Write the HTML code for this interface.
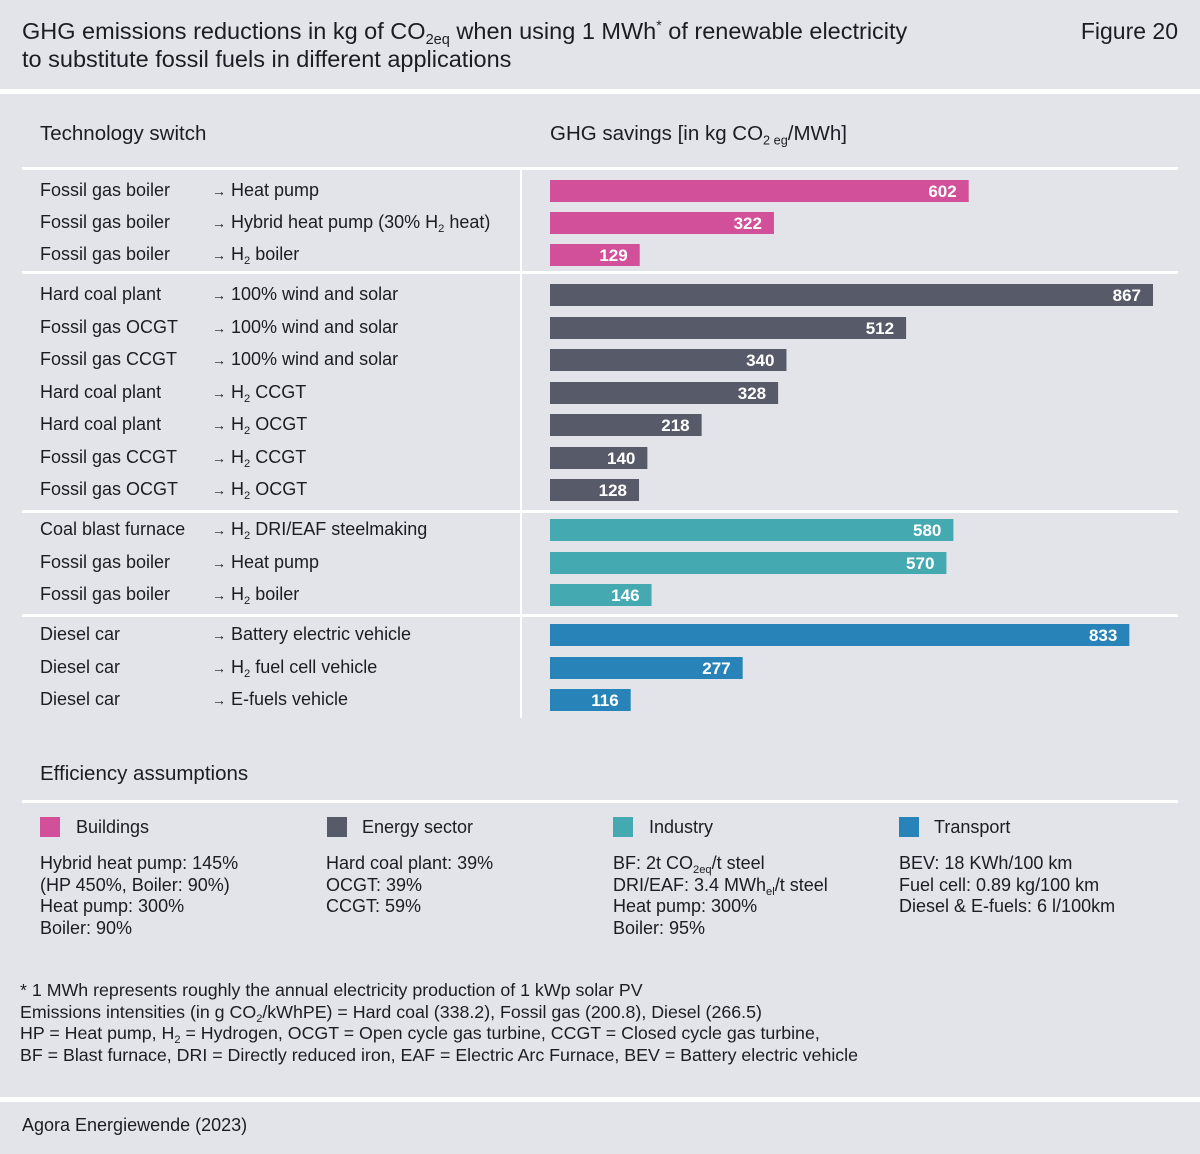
<!DOCTYPE html>
<html><head><meta charset="utf-8">
<style>
body{margin:0;background:#e3e4e9;font-family:"Liberation Sans",sans-serif;color:#1c1c24;}
#page{position:relative;width:1200px;height:1154px;overflow:hidden;background:#e3e4e9;}
.t{position:absolute;white-space:nowrap;}
.hl{position:absolute;background:#fff;}
sub{font-size:0.62em;vertical-align:-0.35em;line-height:0;}
sup{font-size:0.6em;line-height:0;}
.lab{font-size:18px;}
.sq{position:absolute;width:20px;height:20px;}
.ft{font-size:17.8px;line-height:21.5px;}
</style></head>
<body><div id="page">
<div class="t" style="left:22px;top:17px;font-size:23.5px;line-height:28px;">GHG emissions reductions in kg of CO<sub>2eq</sub> when using 1 MWh<sup>*</sup> of renewable electricity<br>to substitute fossil fuels in different applications</div>
<div class="t" style="right:22px;top:17px;font-size:23px;line-height:28px;">Figure 20</div>
<div class="hl" style="left:0;top:89px;width:1200px;height:5px;"></div>

<div class="t" style="left:40px;top:122px;font-size:20.5px;">Technology switch</div>
<div class="t" style="left:550px;top:122px;font-size:20.5px;">GHG savings [in kg CO<sub>2 eg</sub>/MWh]</div>
<div class="hl" style="left:22px;top:167px;width:1156px;height:3px;"></div>
<div class="hl" style="left:520px;top:170px;width:2px;height:548px;"></div>
<div class="hl" style="left:22px;top:271px;width:1156px;height:3px;"></div>
<div class="hl" style="left:22px;top:510px;width:1156px;height:3px;"></div>
<div class="hl" style="left:22px;top:614px;width:1156px;height:3px;"></div>

<div id="rows"></div>
<svg id="chart" width="1200" height="1154" style="position:absolute;left:0;top:0;pointer-events:none"></svg>

<div class="t" style="left:40px;top:762px;font-size:20.5px;">Efficiency assumptions</div>
<div class="hl" style="left:22px;top:800px;width:1156px;height:3px;"></div>

<div class="sq" style="left:40px;top:817px;background:#d2509a"></div>
<div class="t lab" style="left:76px;top:817px;">Buildings</div>
<div class="sq" style="left:327px;top:817px;background:#575a69"></div>
<div class="t lab" style="left:362px;top:817px;">Energy sector</div>
<div class="sq" style="left:613px;top:817px;background:#45a9b2"></div>
<div class="t lab" style="left:649px;top:817px;">Industry</div>
<div class="sq" style="left:899px;top:817px;background:#2783b8"></div>
<div class="t lab" style="left:934px;top:817px;">Transport</div>

<div class="t ft" style="left:40px;top:853px;font-size:18px;">Hybrid heat pump: 145%<br>(HP 450%, Boiler: 90%)<br>Heat pump: 300%<br>Boiler: 90%</div>
<div class="t ft" style="left:326px;top:853px;font-size:18px;">Hard coal plant: 39%<br>OCGT: 39%<br>CCGT: 59%</div>
<div class="t ft" style="left:613px;top:853px;font-size:18px;">BF: 2t CO<sub>2eq</sub>/t steel<br>DRI/EAF: 3.4 MWh<sub>el</sub>/t steel<br>Heat pump: 300%<br>Boiler: 95%</div>
<div class="t ft" style="left:899px;top:853px;font-size:18px;">BEV: 18 KWh/100 km<br>Fuel cell: 0.89 kg/100 km<br>Diesel &amp; E-fuels: 6 l/100km</div>

<div class="t ft" style="left:20px;top:980px;">* 1 MWh represents roughly the annual electricity production of 1 kWp solar PV<br>Emissions intensities (in g CO<sub>2</sub>/kWhPE) = Hard coal (338.2), Fossil gas (200.8), Diesel (266.5)<br>HP = Heat pump, H<sub>2</sub> = Hydrogen, OCGT = Open cycle gas turbine, CCGT = Closed cycle gas turbine,<br>BF = Blast furnace, DRI = Directly reduced iron, EAF = Electric Arc Furnace, BEV = Battery electric vehicle</div>
<div class="hl" style="left:0;top:1097px;width:1200px;height:5px;"></div>
<div class="t" style="left:22px;top:1115px;font-size:18px;">Agora Energiewende (2023)</div>
</div>
<script>
const fromTech=["Fossil gas boiler","Fossil gas boiler","Fossil gas boiler","Hard coal plant","Fossil gas OCGT","Fossil gas CCGT","Hard coal plant","Hard coal plant","Fossil gas CCGT","Fossil gas OCGT","Coal blast furnace","Fossil gas boiler","Fossil gas boiler","Diesel car","Diesel car","Diesel car"];
const toTech=["Heat pump","Hybrid heat pump (30% H<sub>2</sub> heat)","H<sub>2</sub> boiler","100% wind and solar","100% wind and solar","100% wind and solar","H<sub>2</sub> CCGT","H<sub>2</sub> OCGT","H<sub>2</sub> CCGT","H<sub>2</sub> OCGT","H<sub>2</sub> DRI/EAF steelmaking","Heat pump","H<sub>2</sub> boiler","Battery electric vehicle","H<sub>2</sub> fuel cell vehicle","E-fuels vehicle"];
const savings=[602,322,129,867,512,340,328,218,140,128,580,570,146,833,277,116];
const sector=[0,0,0,1,1,1,1,1,1,1,2,2,2,3,3,3];
const sectorColors=["#d2509a","#575a69","#45a9b2","#2783b8"];
const rowY=[190,222,254,294,327,359,392,424,457,489,529,562,594,634,667,699];
const x0=550, scale=603/867;
const xPos=v=>x0+v*scale;
const svg=document.getElementById('chart'), rows=document.getElementById('rows');
const NS="http://www.w3.org/2000/svg";
savings.forEach((v,i)=>{
  const y=rowY[i];
  const a=document.createElement('div');a.className='t lab';a.style.left='40px';a.style.top=(y-10)+'px';a.textContent=fromTech[i];
  
  
  rows.appendChild(a);
  const b=document.createElement('div');b.className='t lab';b.style.left='212px';b.style.top=(y-10)+'px';b.innerHTML='<span style="font-size:14px">→</span> '+toTech[i];
  
  
  rows.appendChild(b);
  const r=document.createElementNS(NS,'rect');
  r.setAttribute('x',x0);r.setAttribute('y',y-10);r.setAttribute('width',xPos(v)-x0);r.setAttribute('height',22);r.setAttribute('fill',sectorColors[sector[i]]);
  
  
  svg.appendChild(r);
  const t=document.createElementNS(NS,'text');
  t.setAttribute('x',xPos(v)-12);t.setAttribute('y',y+7);t.setAttribute('text-anchor','end');t.setAttribute('fill','#fff');t.setAttribute('font-size','17');t.setAttribute('font-weight','bold');t.setAttribute('font-family','Liberation Sans, sans-serif');t.textContent=v;
  
  
  svg.appendChild(t);
});
</script>
</body></html>
